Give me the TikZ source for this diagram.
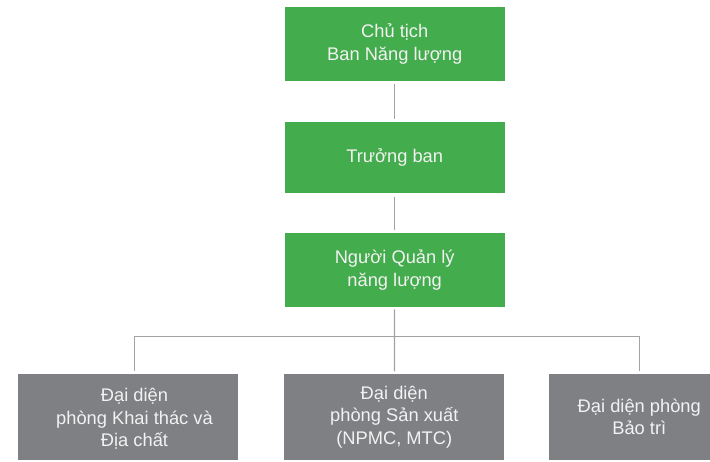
\documentclass[tikz,border=0pt]{standalone}
\usepackage{fontspec}
\setmainfont{Liberation Sans}
\definecolor{boxgreen}{HTML}{43AC4C}
\definecolor{boxgray}{HTML}{7F8084}
\definecolor{linegray}{HTML}{A3A3A3}
\definecolor{txt}{HTML}{F2F2F2}
\begin{document}
\begin{tikzpicture}[x=1pt,y=-1pt,
  box/.style={draw=none, minimum width=220pt, inner sep=0pt, text=txt, align=center,
    font=\fontsize{18.3}{22.5}\selectfont},
  greenbox/.style={box, fill=boxgreen},
  graybox/.style={box, fill=boxgray, minimum height=86pt},
  txtonly/.style={inner sep=0pt, text=txt, align=center, font=\fontsize{18.3}{22.5}\selectfont},
  conn/.style={draw=linegray, line width=1.3pt}]
\useasboundingbox (0,0) rectangle (710,461);
\clip (0,0) rectangle (710,461);
% green boxes
\node[greenbox, minimum height=73.7pt] (c) at (394.7,44.2) {Chủ tịch\\Ban Năng lượng};
\node[greenbox, minimum height=71.6pt] (t) at (394.7,157.5) {Trưởng ban};
\node[greenbox, minimum height=73.4pt] (m) at (394.7,270) {Người Quản lý\\năng lượng};
% gray boxes
\node[graybox] (g1) at (128.3,417) {};
\node[txtonly] (g1t) at (134.5,419) {Đại diện\\phòng Khai thác và\\Địa chất};
\node[graybox] (g2) at (394.3,417) {Đại diện\\phòng Sản xuất\\(NPMC, MTC)};
\node[graybox, minimum width=180pt] (g3) at (639.3,417) {Đại diện phòng\\Bảo trì};
% connectors
\coordinate (j) at (394.5,336.7);
\draw[conn, shorten <=3pt, shorten >=3pt] (c) -- (t);
\draw[conn, shorten <=3pt, shorten >=3pt] (t) -- (m);
\draw[conn, shorten <=2.5pt] (m) -- (j);
\draw[conn, shorten >=2.5pt] (j) -- (g2);
\draw[conn, shorten >=2.5pt] (j) -| ([xshift=6.2pt]g1.north);
\draw[conn, shorten >=2.5pt] (j) -| (g3.north);
\end{tikzpicture}
\end{document}
